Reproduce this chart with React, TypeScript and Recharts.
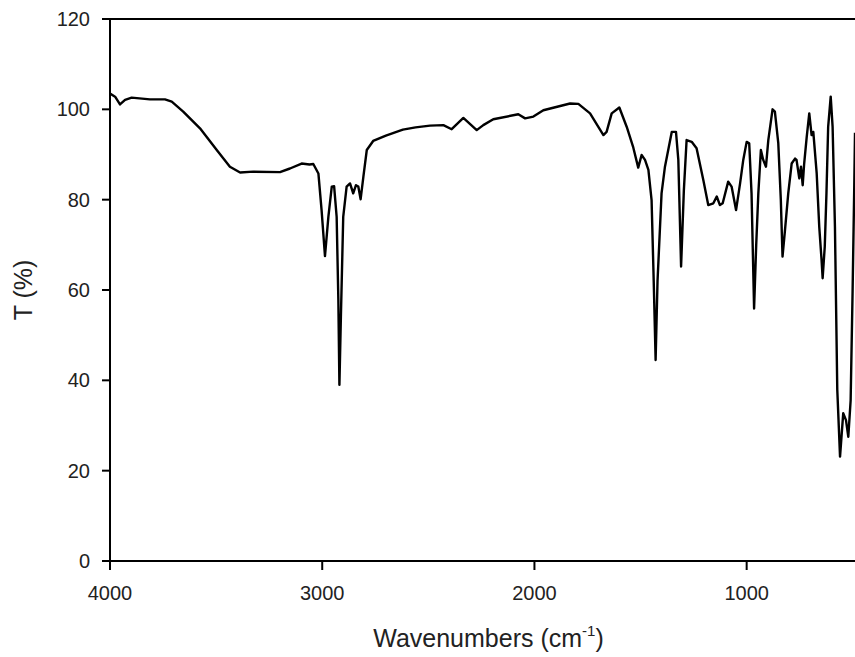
import { LineChart, Line, XAxis, YAxis, ReferenceLine, Label } from "recharts";

// IR spectrum: wavenumber (cm-1) vs transmittance (%)
const wavenumbers = [
  4000, 3976, 3953, 3929, 3898, 3812, 3741, 3709, 3655, 3576, 3497, 3435, 3387, 3325, 3199,
  3152, 3097, 3060, 3042, 3018, 3003, 2987, 2971, 2955, 2944, 2932, 2924, 2919, 2912, 2901,
  2885, 2869, 2854, 2841, 2830, 2819, 2806, 2790, 2760, 2700, 2620, 2560, 2492, 2429, 2390,
  2335, 2272, 2241, 2194, 2076, 2044, 2005, 1958, 1832, 1793, 1738, 1675, 1660, 1636, 1600,
  1565, 1534, 1511, 1495, 1479, 1463, 1448, 1438, 1429, 1420, 1401, 1385, 1353, 1333, 1322,
  1309, 1296, 1283, 1259, 1236, 1204, 1181, 1157, 1141, 1126, 1113, 1087, 1071, 1050, 1031,
  1016, 1000, 988, 977, 965, 955, 945, 933, 922, 909, 898, 878, 867, 851, 839,
  831, 820, 804, 788, 772, 765, 752, 744, 736, 729, 717, 705, 694, 686, 670,
  658, 647, 642, 632, 624, 616, 604, 595, 584, 573, 560, 545, 532, 521, 510,
  501, 493, 489.5,
];
const transmittance = [
  103.5, 102.8, 101.1, 102.1, 102.6, 102.2, 102.2, 101.7, 99.5, 95.8, 91.0, 87.3, 86.0, 86.2, 86.1,
  86.9, 88.0, 87.8, 87.9, 85.8, 77.7, 67.5, 76.2, 82.9, 83.0, 76.2, 57.8, 39.0, 54.1, 76.2,
  82.9, 83.6, 81.4, 83.2, 82.9, 80.1, 85.1, 91.0, 93.0, 94.2, 95.5, 96.0, 96.4, 96.5, 95.6,
  98.1, 95.4, 96.5, 97.8, 98.9, 98.0, 98.4, 99.8, 101.3, 101.2, 99.1, 94.3, 95.0, 99.1, 100.4,
  96.1, 91.5, 87.1, 89.9, 88.8, 86.6, 79.9, 62.0, 44.5, 62.0, 81.4, 87.3, 95.0, 95.0, 88.8,
  65.2, 82.0, 93.2, 92.8, 91.4, 84.3, 78.8, 79.2, 80.7, 78.8, 79.2, 84.0, 82.9, 77.7, 83.6,
  88.8, 92.8, 92.5, 81.4, 55.9, 70.0, 81.4, 91.0, 88.8, 87.3, 93.2, 100.0, 99.5, 92.5, 79.9,
  67.4, 72.9, 81.4, 88.0, 89.1, 88.8, 84.7, 87.3, 83.2, 88.0, 93.9, 99.1, 94.3, 95.0, 85.8,
  74.0, 66.6, 62.6, 69.6, 81.4, 96.1, 102.8, 96.1, 74.0, 37.9, 23.1, 32.7, 31.2, 27.5, 35.6,
  59.3, 82.9, 94.8,
];
const xTicks = [4000, 3000, 2000, 1000];
const yTicks = [0, 20, 40, 60, 80, 100, 120];

const data = wavenumbers.map((w, i) => ({ w, t: transmittance[i] }));

const font = "'Liberation Sans', Arial, sans-serif";
const tickStyle = { fontSize: 20, fill: "#222", fontFamily: font };

export default function App() {
  return (
    <div style={{ position: "absolute", left: 0, top: 0, width: 855, height: 657, overflow: "hidden", background: "#fff" }}>
      <LineChart width={855} height={657} data={data} margin={{ top: 19, right: 0, bottom: 0, left: 0 }}>
        <XAxis
          dataKey="w"
          type="number"
          domain={[489.5, 4000]}
          reversed
          allowDataOverflow
          ticks={xTicks}
          height={96}
          tickSize={9}
          tickMargin={16}
          tick={tickStyle}
          axisLine={{ stroke: "#000", strokeWidth: 2 }}
          tickLine={{ stroke: "#000", strokeWidth: 2 }}
        >
          <Label
            content={(props: any) => {
              const vb = props.viewBox || { x: 110, y: 561, width: 745 };
              return (
                <text x={vb.x + vb.width / 2 + 6} y={vb.y + 86} textAnchor="middle" fontSize={25} fill="#222" fontFamily={font}>
                  Wavenumbers (cm
                  <tspan fontSize={15} dy={-11}>-1</tspan>
                  <tspan dy={11}>)</tspan>
                </text>
              );
            }}
          />
        </XAxis>
        <YAxis
          type="number"
          domain={[0, 120]}
          ticks={yTicks}
          width={110}
          tickSize={8}
          tickMargin={12}
          tick={tickStyle}
          axisLine={{ stroke: "#000", strokeWidth: 2 }}
          tickLine={{ stroke: "#000", strokeWidth: 2 }}
        >
          <Label
            content={() => (
              <text x={32} y={290} transform="rotate(-90 32 290)" textAnchor="middle" fontSize={25} fill="#222" fontFamily={font}>
                T (%)
              </text>
            )}
          />
        </YAxis>
        <ReferenceLine y={120} stroke="#000" strokeWidth={2} />
        <Line
          type="linear"
          dataKey="t"
          stroke="#000"
          strokeWidth={2.4}
          strokeLinejoin="round"
          dot={false}
          isAnimationActive={false}
        />
      </LineChart>
    </div>
  );
}
